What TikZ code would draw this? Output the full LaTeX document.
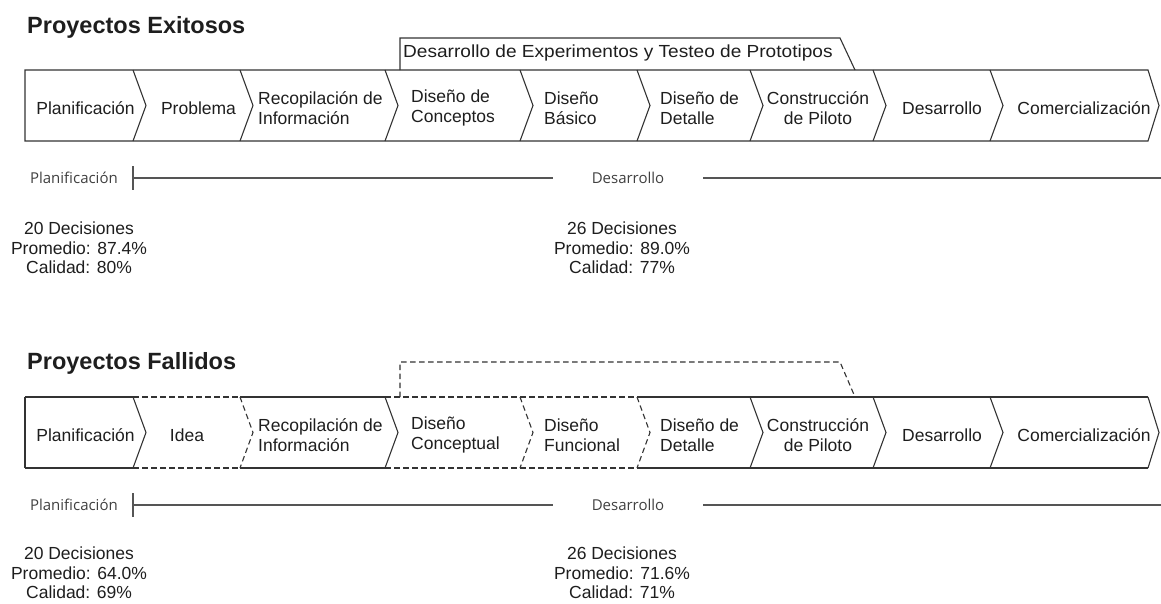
\documentclass[tikz,border=0pt]{standalone}
\usepackage{fontspec}
\setmainfont{Liberation Sans}
\newfontfamily\lblfont{Open Sans}
\newfontfamily\banfont[FakeStretch=1.09]{Liberation Sans}
\definecolor{linec}{HTML}{333333}
\definecolor{txt}{HTML}{1E1E1E}
\definecolor{rulec}{HTML}{555555}
\begin{document}
\begin{tikzpicture}[x=1pt,y=-1pt,
  edge/.style={draw=linec, line width=1.1pt, line join=miter},
  dashededge/.style={edge, dash pattern=on 5.5pt off 3.5pt},
  stage/.style={font=\fontsize{17.5}{19.5}\selectfont, text=txt, inner sep=0pt},
  stageL/.style={stage, align=left, anchor=west},
  stageC/.style={stage, align=center},
  stat/.style={stage, align=center},
  ttl/.style={font=\bfseries\fontsize{23.5}{26}\selectfont, text=txt, anchor=west, inner sep=0pt},
  lbl/.style={font=\lblfont\fontsize{15}{17}\selectfont, text=txt!85, inner sep=0pt},
  rule/.style={draw=rulec, line width=1.1pt},
  banner/.style={font=\banfont\fontsize{17.5}{19.5}\selectfont, text=txt, anchor=west, inner sep=0pt}
]
\useasboundingbox (0,0) rectangle (1161,603);

% ================= Row 1 : Proyectos Exitosos =================
\node[ttl] (title1) at (27,27) {Proyectos Exitosos};

% banner
\draw[edge] (400,70) -- (400,38) -- (840,38) -- (855,70);
\node[banner] (ban1) at (403,53) {Desarrollo de Experimentos y Testeo de Prototipos};

% chevrons outline
\draw[edge] (25,70) -- (1148,70) -- (1159,105.5) -- (1148,141) -- (25,141) -- cycle;
\foreach \x in {133,240,385,520,637,750,873,990}
  \draw[edge] (\x,70) -- (\x+13,105.5) -- (\x,141);

\node[stageC] (a1) at (85.5,108) {Planificación};
\node[stageC] (a2) at (198.5,108) {Problema};
\node[stageL] (a3) at (258,108) {Recopilación de\\Información};
\node[stageL] (a4) at (411,108) {Diseño de\\Conceptos};
\node[stageL] (a5) at (544,108) {Diseño\\Básico};
\node[stageL] (a6) at (660,108) {Diseño de\\Detalle};
\node[stageC] (a7) at (818,108) {Construcción\\de Piloto};
\node[stageC] (a8) at (942,108) {Desarrollo};
\node[stageC] (a9) at (1084,108) {Comercialización};

% phase rule
\node[lbl, anchor=east] (p1) at (118,178) {Planificación};
\coordinate (t1a) at (133,166);
\coordinate (t1b) at (133,190);
\coordinate (t1m) at (133,178);
\draw[rule] (t1a) -- (t1b);
\node[lbl, inner xsep=39pt] (d1) at (628,178) {Desarrollo};
\coordinate (e1) at (1161,178);
\draw[rule] (t1m) -- (d1.west);
\draw[rule] (d1.east) -- (e1);

\node[stat] (s1) at (79,248) {20 Decisiones\\Promedio: 87.4\%\\Calidad: 80\%};
\node[stat] (s2) at (622,248) {26 Decisiones\\Promedio: 89.0\%\\Calidad: 77\%};

% ================= Row 2 : Proyectos Fallidos =================
\node[ttl] (title2) at (27,363) {Proyectos Fallidos};

% dashed banner
\draw[dashededge] (400,397) -- (400,362) -- (840,362) -- (855,397);

% top and bottom edges
\foreach \xa/\xb/\sty in {25/133/edge,133/240/dashededge,240/385/edge,385/520/dashededge,520/637/dashededge,637/1148/edge}{
  \draw[\sty] (\xa,397) -- (\xb,397);
  \draw[\sty] (\xa,468) -- (\xb,468);
}
\draw[edge] (25,397) -- (25,468);
\foreach \x/\sty in {133/edge,240/dashededge,385/edge,520/dashededge,637/dashededge,750/edge,873/edge,990/edge}
  \draw[\sty] (\x,397) -- (\x+13,432.5) -- (\x,468);
\draw[edge] (1148,397) -- (1159,432.5) -- (1148,468);

\node[stageC] (b1) at (85.5,435) {Planificación};
\node[stageC] (b2) at (187,435) {Idea};
\node[stageL] (b3) at (258,435) {Recopilación de\\Información};
\node[stageL] (b4) at (411,435) {Diseño\\Conceptual};
\node[stageL] (b5) at (544,435) {Diseño\\Funcional};
\node[stageL] (b6) at (660,435) {Diseño de\\Detalle};
\node[stageC] (b7) at (818,435) {Construcción\\de Piloto};
\node[stageC] (b8) at (942,435) {Desarrollo};
\node[stageC] (b9) at (1084,435) {Comercialización};

% phase rule
\node[lbl, anchor=east] (p2) at (118,505) {Planificación};
\coordinate (t2a) at (133,493);
\coordinate (t2b) at (133,517);
\coordinate (t2m) at (133,505);
\draw[rule] (t2a) -- (t2b);
\node[lbl, inner xsep=39pt] (d2) at (628,505) {Desarrollo};
\coordinate (e2) at (1161,505);
\draw[rule] (t2m) -- (d2.west);
\draw[rule] (d2.east) -- (e2);

\node[stat] (s3) at (79,573) {20 Decisiones\\Promedio: 64.0\%\\Calidad: 69\%};
\node[stat] (s4) at (622,573) {26 Decisiones\\Promedio: 71.6\%\\Calidad: 71\%};
\end{tikzpicture}
\end{document}
